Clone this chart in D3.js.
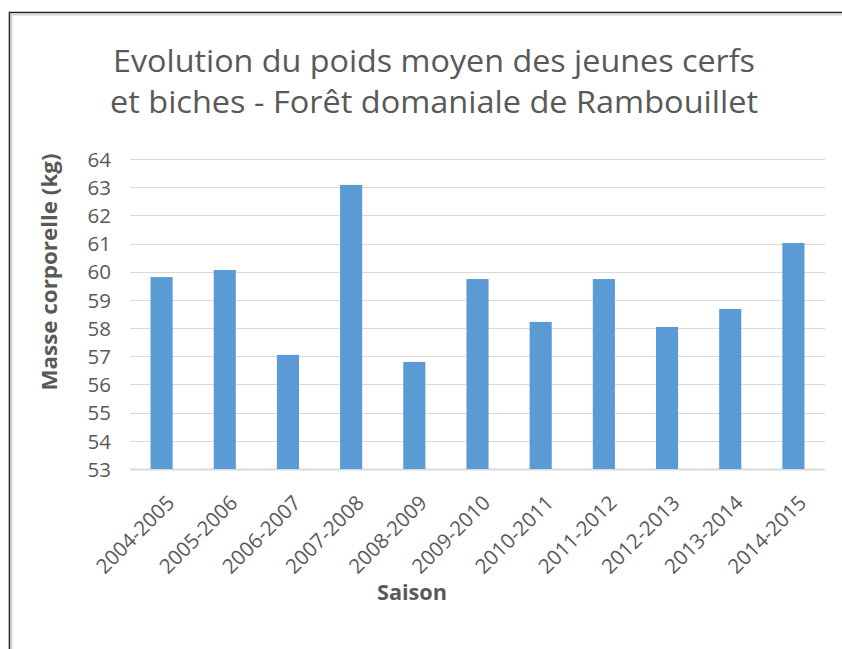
<!DOCTYPE html>
<html><head><meta charset="utf-8">
<script src="https://cdn.jsdelivr.net/npm/d3@7"></script>
<style>body{margin:0;background:#fff}svg{display:block}</style>
</head><body>
<svg id="c" width="842" height="649"></svg>
<script>
const titleLines = ["Evolution du poids moyen des jeunes cerfs", "et biches - Forêt domaniale de Rambouillet"];
const seasons = ["2004-2005","2005-2006","2006-2007","2007-2008","2008-2009","2009-2010","2010-2011","2011-2012","2012-2013","2013-2014","2014-2015"];
const weights = [59.81, 60.06, 57.05, 63.08, 56.8, 59.74, 58.22, 59.74, 58.04, 58.68, 61.02];
const yTicks = [53,54,55,56,57,58,59,60,61,62,63,64];
const yTitle = "Masse corporelle (kg)";
const xTitle = "Saison";

const svg = d3.select("#c");
const font = "'Open Sans', sans-serif";
const txt = "#595959";

// frame
svg.append("path").attr("d","M9.5,649 V12.5 H842").attr("fill","none").attr("stroke","#222").attr("stroke-width",1.6);
svg.append("path").attr("d","M11.5,649 V14.5 H842").attr("fill","none").attr("stroke","#d4d4d4").attr("stroke-width",2);

const x = d3.scaleBand().domain(seasons).range([130, 825]).paddingInner(0.65).paddingOuter(0.325);
const y = d3.scaleLinear().domain([53, 64]).range([469, 159]);

// gridlines
svg.append("g").selectAll("line").data(yTicks).join("line")
  .attr("x1",130).attr("x2",825)
  .attr("y1",d=>Math.round(y(d))+0.5).attr("y2",d=>Math.round(y(d))+0.5)
  .attr("stroke","#d9d9d9").attr("stroke-width",d=>d===53?2:1.2);

// bars
svg.append("g").selectAll("rect").data(seasons).join("rect")
  .attr("x",d=>x(d)).attr("width",x.bandwidth())
  .attr("y",(d,i)=>y(weights[i])).attr("height",(d,i)=>y(53)-y(weights[i]))
  .attr("fill","#5b9bd5");

// y axis
const yAxis = d3.axisLeft(y).tickValues(yTicks).tickSize(0).tickPadding(0);
const gy = svg.append("g").attr("transform","translate(111,0)").call(yAxis);
gy.select(".domain").remove();
gy.selectAll("text").attr("fill",txt).attr("font-family",font).attr("font-size",20.5).attr("dy","0.35em");

// x axis labels
const xAxis = d3.axisBottom(x).tickSize(0).tickPadding(0);
const gx = svg.append("g").attr("transform","translate(0,469)").call(xAxis);
gx.select(".domain").remove();
gx.selectAll(".tick text")
  .attr("fill",txt).attr("font-family",font).attr("font-size",20.5)
  .attr("text-anchor","end").attr("dy","0.35em").attr("y",0).attr("x",0)
  .attr("transform","translate(9,30) rotate(-45)");

// titles
svg.append("g").selectAll("text").data(titleLines).join("text")
  .attr("x",434).attr("y",(d,i)=>72+i*41).attr("text-anchor","middle")
  .attr("font-family",font).attr("font-size",30.5).attr("fill",txt)
  .attr("textLength",(d,i)=>i===0?642:648).attr("lengthAdjust","spacingAndGlyphs")
  .text(d=>d);

svg.append("text").attr("transform","translate(57,272) rotate(-90)")
  .attr("text-anchor","middle").attr("font-family",font).attr("font-weight","bold")
  .attr("font-size",21).attr("fill",txt).attr("textLength",237).attr("lengthAdjust","spacingAndGlyphs")
  .text(yTitle);

svg.append("text").attr("x",412).attr("y",600).attr("text-anchor","middle")
  .attr("font-family",font).attr("font-weight","bold").attr("font-size",22).attr("fill",txt)
  .attr("textLength",70).attr("lengthAdjust","spacingAndGlyphs")
  .text(xTitle);
</script>
</body></html>
